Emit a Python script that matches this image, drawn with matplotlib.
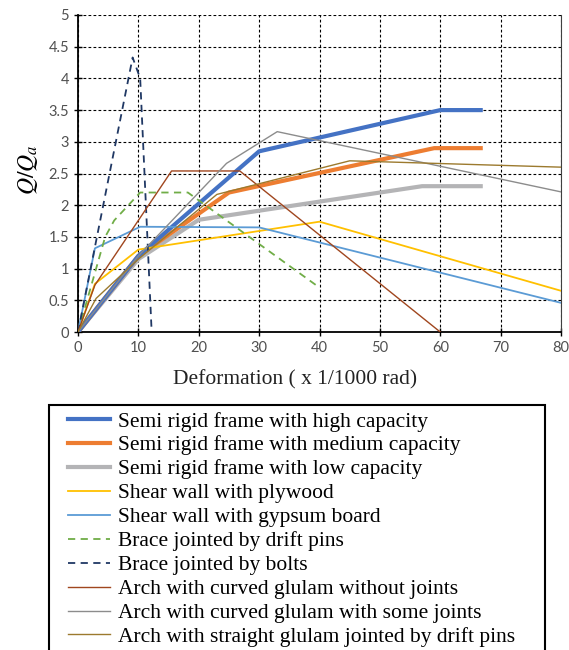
import matplotlib.pyplot as plt
from matplotlib.patches import Rectangle

plt.rcParams['mathtext.fontset'] = 'stix'

# data (deformation x 1/1000 rad, Q/Qa)
high_x = [0, 10, 30, 60, 66.7]
high_y = [0, 1.2, 2.85, 3.5, 3.5]
medium_x = [0, 10, 25, 59, 66.7]
medium_y = [0, 1.2, 2.2, 2.9, 2.9]
low_x = [0, 10, 20, 57, 66.7]
low_y = [0, 1.15, 1.77, 2.3, 2.3]
plywood_x = [0, 2.8, 10, 40, 80]
plywood_y = [0, 0.76, 1.3, 1.74, 0.65]
gypsum_x = [0, 2.8, 10.3, 30, 80]
gypsum_y = [0, 1.32, 1.66, 1.65, 0.46]
pins_x = [0, 4.5, 6, 10.3, 18.2, 40]
pins_y = [0, 1.5, 1.76, 2.2, 2.2, 0.7]
bolts_x = [0, 9.05, 10.3, 12.2]
bolts_y = [0, 4.33, 4.0, 0]
arch_nj_x = [0, 2.8, 15.5, 26.8, 60]
arch_nj_y = [0, 0.74, 2.54, 2.54, 0]
arch_sj_x = [0, 10, 24.6, 33, 80]
arch_sj_y = [0, 1.2, 2.66, 3.16, 2.21]
arch_st_x = [0, 3, 10, 23, 45, 80]
arch_st_y = [0, 0.53, 1.15, 2.17, 2.7, 2.6]

labels = [
    'Semi rigid frame with high capacity',
    'Semi rigid frame with medium capacity',
    'Semi rigid frame with low capacity',
    'Shear wall with plywood',
    'Shear wall with gypsum board',
    'Brace jointed by drift pins',
    'Brace jointed by bolts',
    'Arch with curved glulam without joints',
    'Arch with curved glulam with some joints',
    'Arch with straight glulam jointed by drift pins',
]

fig = plt.figure(figsize=(5.69, 6.50), dpi=100)
ax = fig.add_axes([78 / 569, 1 - 332 / 650, (561 - 78) / 569, (332 - 15) / 650])

ax.plot(high_x, high_y, color='#4472C4', lw=3, label=labels[0], zorder=5)
ax.plot(medium_x, medium_y, color='#ED7D31', lw=3, label=labels[1], zorder=4)
ax.plot(low_x, low_y, color='#B4B4B6', lw=3, label=labels[2], zorder=3)
ax.plot(plywood_x, plywood_y, color='#FFC000', lw=1.3, label=labels[3], zorder=6)
ax.plot(gypsum_x, gypsum_y, color='#5B9BD5', lw=1.3, label=labels[4], zorder=6)
ax.plot(pins_x, pins_y, color='#70AD47', lw=1.3, ls=(0, (4, 3)), label=labels[5], zorder=6)
ax.plot(bolts_x, bolts_y, color='#203864', lw=1.3, ls=(0, (4, 3)), label=labels[6], zorder=6)
ax.plot(arch_nj_x, arch_nj_y, color='#A0461E', lw=1.0, label=labels[7], zorder=6)
ax.plot(arch_sj_x, arch_sj_y, color='#8C8C8C', lw=1.0, label=labels[8], zorder=6)
ax.plot(arch_st_x, arch_st_y, color='#9C7A2E', lw=1.0, label=labels[9], zorder=6)

ax.set_xlim(0, 80)
ax.set_ylim(0, 5)
ax.set_xticks(range(0, 81, 10))
ax.set_yticks([0, 0.5, 1, 1.5, 2, 2.5, 3, 3.5, 4, 4.5, 5])
ax.set_yticklabels(['0', '0.5', '1', '1.5', '2', '2.5', '3', '3.5', '4', '4.5', '5'])
ax.grid(True, color='black', ls=(0, (2.5, 2)), lw=0.8)
ax.set_axisbelow(True)
ax.tick_params(direction='inout', length=6, width=1, labelsize=10.5, colors='black',
               labelcolor='#505050')
for lab in ax.get_xticklabels() + ax.get_yticklabels():
    lab.set_family('Lato')
ax.spines['top'].set_visible(False)
ax.spines['right'].set_color('#404040')
ax.spines['left'].set_linewidth(1.3)
ax.spines['bottom'].set_linewidth(1.3)

ax.set_xlabel('Deformation ( x 1/1000 rad)', family='Liberation Serif', fontsize=15.5,
              color='#222222')
ax.xaxis.set_label_coords((295 - 78) / 483, -(380 - 332) / 317, transform=ax.transAxes)
ax.xaxis.label.set_va('center')
ax.set_ylabel(r'$Q/Q_a$', fontsize=17)
ax.yaxis.set_label_coords(-(78 - 28) / 483, (332 - 170) / 317)
ax.yaxis.label.set_va('center')

# legend frame runs past the bottom edge of the picture
fig.patches.append(Rectangle((49 / 569, -0.05), (545 - 49) / 569, 1 - 405 / 650 + 0.05,
                             transform=fig.transFigure, fill=False,
                             edgecolor='black', lw=1.5))
leg = fig.legend(loc='upper left', bbox_to_anchor=(62 / 569, 1 - 405 / 650),
                 prop={'family': 'Liberation Serif', 'size': 15.5},
                 frameon=False, handlelength=1.95, handletextpad=0.37,
                 labelspacing=0.18, borderpad=0.3, borderaxespad=0)

fig.savefig('out.png', dpi=100)
